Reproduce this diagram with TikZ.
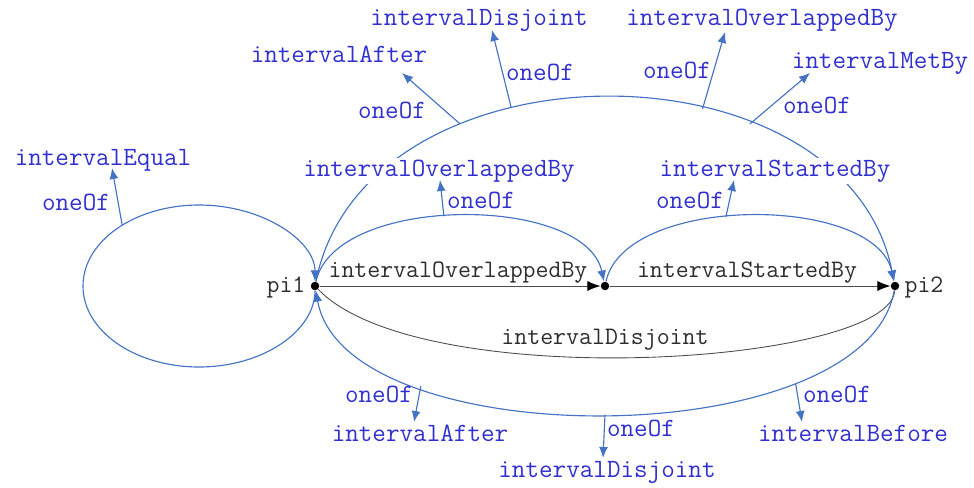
\documentclass[tikz,border=0pt]{standalone}
\usepackage{fontspec}
\usetikzlibrary{positioning,arrows.meta}
\definecolor{arcblue}{RGB}{68,114,196}
\definecolor{lblblue}{RGB}{48,48,208}
\definecolor{lblgray}{RGB}{45,45,45}
\tikzset{
  dot/.style={circle,fill=black,inner sep=0pt,minimum size=0.17cm},
  rel/.style={draw=black!70,line width=0.5pt,-{Latex[length=0.26cm,width=0.2cm,color=black]}},
  disj/.style={draw=black!70,line width=0.5pt},
  alt/.style={draw=arcblue,line width=0.65pt,-{Latex[length=0.22cm,width=0.18cm]}},
  rellbl/.style={font=\ttfamily\fontsize{14.3}{16}\selectfont,text=lblgray,anchor=base,inner sep=1pt},
  altlbl/.style={font=\ttfamily\fontsize{15}{17}\selectfont,text=lblblue,anchor=base,inner sep=1pt},
}
\begin{document}
\begin{tikzpicture}[x=0.02cm,y=-0.02cm]
\useasboundingbox (0,0) rectangle (974,487);

	% the interval points
	\node[dot] (p1) at (315,286) {};
	\node[dot] (pm) at (605,286) {};
	\node[dot] (p2) at (895,286) {};
	\node[rellbl] (l1) at (286,292) {pi1};
	\node[rellbl] (l2) at (924,292) {pi2};

	% the plain relations
	\draw[rel] (p1) -- (pm);
	\draw[rel] (pm) -- (p2);
	\draw[disj] (p2) .. controls (890,365) and (420,395) .. (p1);
	\node[rellbl] (rovm) at (458,277) {intervalOverlappedBy};
	\node[rellbl] (rstm) at (747,277) {intervalStartedBy};
	\node[rellbl] (rdis) at (605,344) {intervalDisjoint};

	% the oneOf arcs
	\draw[alt] (p1) .. controls (315,331) and (263,367) .. (199,367)
		.. controls (135,367) and (83,331) .. (83,286)
		.. controls (83,241) and (135,205) .. (199,205) coordinate[pos=0.54] (beq)
		.. controls (263,205) and (315,241) .. (p1);
	\draw[alt] (p1) .. controls (365,36) and (845,36) .. (p2)
		coordinate[pos=0.31] (baft) coordinate[pos=0.38] (bdis)
		coordinate[pos=0.625] (bovl) coordinate[pos=0.69] (bmet);
	\draw[alt] (p1) .. controls (335,194) and (585,194) .. (pm) coordinate[pos=0.46] (bovm);
	\draw[alt] (pm) .. controls (625,194) and (875,194) .. (p2) coordinate[pos=0.44] (bstm);
	\draw[alt] (p2) .. controls (865,456) and (345,456) .. (p1)
		coordinate[pos=0.25] (bbbef) coordinate[pos=0.5] (bbdis) coordinate[pos=0.74] (bbaft);

	% the alternatives above
	\node[altlbl] (neq) at (103,165) {intervalEqual};
	\node[altlbl] (oeq) at (76,210) {oneOf};
	\node[altlbl] (naft) at (339,62) {intervalAfter};
	\node[altlbl] (oaft) at (392,118) {oneOf};
	\node[altlbl] (ndis) at (479,25) {intervalDisjoint};
	\node[altlbl] (odis) at (540,80) {oneOf};
	\node[altlbl] (novl) at (762,25) {intervalOverlappedBy};
	\node[altlbl] (oovl) at (677,78) {oneOf};
	\node[altlbl] (nmet) at (880,68) {intervalMetBy};
	\node[altlbl] (omet) at (817,113) {oneOf};
	\node[altlbl,fill=white] (novm) at (439,176) {intervalOverlappedBy};
	\node[altlbl] (oovm) at (481,208) {oneOf};
	\node[altlbl,fill=white] (nstm) at (775,176) {intervalStartedBy};
	\node[altlbl] (ostm) at (690,208) {oneOf};

	% the alternatives below
	\node[altlbl] (obaft) at (379,402) {oneOf};
	\node[altlbl] (nbaft) at (420,441) {intervalAfter};
	\node[altlbl] (obdis) at (641,436) {oneOf};
	\node[altlbl] (nbdis) at (607,477) {intervalDisjoint};
	\node[altlbl] (obbef) at (837,402) {oneOf};
	\node[altlbl] (nbbef) at (853,441) {intervalBefore};

	% arrow tips of the oneOf branches
	\coordinate (teq) at (112,168);
	\coordinate (taft) at (402,73);
	\coordinate (tdis) at (492,30);
	\coordinate (tovl) at (725,32);
	\coordinate (tmet) at (810,73);
	\coordinate (tovm) at (440,180);
	\coordinate (tstm) at (734,180);
	\coordinate (tbaft) at (414,422);
	\coordinate (tbdis) at (603,458);
	\coordinate (tbbef) at (802,422);

	\draw[alt] (beq) -- (teq);
	\draw[alt] (baft) -- (taft);
	\draw[alt] (bdis) -- (tdis);
	\draw[alt] (bovl) -- (tovl);
	\draw[alt] (bmet) -- (tmet);
	\draw[alt] (bovm) -- (tovm);
	\draw[alt] (bstm) -- (tstm);
	\draw[alt] (bbaft) -- (tbaft);
	\draw[alt] (bbdis) -- (tbdis);
	\draw[alt] (bbbef) -- (tbbef);

\end{tikzpicture}
\end{document}
